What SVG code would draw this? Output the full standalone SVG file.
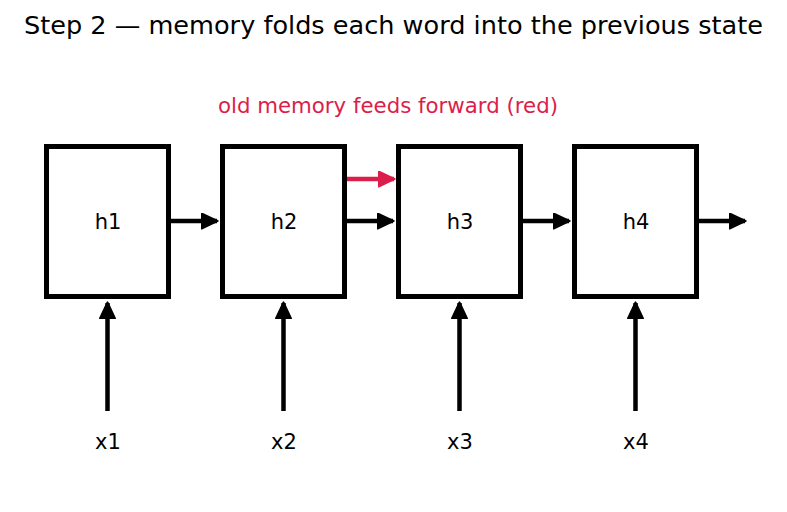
<svg xmlns="http://www.w3.org/2000/svg" width="787" height="512" viewBox="0 0 787 512">
<defs>
<style>
text{font-family:"DejaVu Sans","Liberation Sans",sans-serif;fill:#000}
.box{fill:#fff;stroke:#000;stroke-width:5}
.lbl{font-size:21px;text-anchor:middle}
.c{stroke:#000;stroke-width:4.5;fill:none}
.r{stroke:#dc1e4a;stroke-width:4.5;fill:none}
</style>
<marker id="ahr" viewBox="0 0 10 10" refX="9" refY="5" markerWidth="18" markerHeight="17" markerUnits="userSpaceOnUse" orient="auto">
<path d="M0,0.5 L9.5,5 L0,9.5 z" fill="#dc1e4a" stroke="#dc1e4a" stroke-width="1" stroke-linejoin="round"/>
</marker>
<marker id="ahb" viewBox="0 0 10 10" refX="9" refY="5" markerWidth="18" markerHeight="17" markerUnits="userSpaceOnUse" orient="auto">
<path d="M0,0.5 L9.5,5 L0,9.5 z" fill="#000" stroke="#000" stroke-width="1" stroke-linejoin="round"/>
</marker>
</defs>
<rect width="787" height="512" fill="#fff"/>
<text x="393.5" y="34" font-size="25" text-anchor="middle" textLength="739" lengthAdjust="spacingAndGlyphs">Step 2 — memory folds each word into the previous state</text>
<text x="388" y="113" font-size="21.3" text-anchor="middle" style="fill:#dc1e4a">old memory feeds forward (red)</text>
<g id="connectors">
<line class="c" x1="169" y1="221" x2="217" y2="221" marker-end="url(#ahb)"/>
<line class="c" x1="345" y1="221" x2="393" y2="221" marker-end="url(#ahb)"/>
<line class="c" x1="521" y1="221" x2="569" y2="221" marker-end="url(#ahb)"/>
<line class="c" x1="697" y1="221" x2="745" y2="221" marker-end="url(#ahb)"/>
<line class="r" x1="346" y1="179" x2="394" y2="179" marker-end="url(#ahr)"/>
<line class="c" x1="107.5" y1="411" x2="107.5" y2="303" marker-end="url(#ahb)"/>
<line class="c" x1="283.5" y1="411" x2="283.5" y2="303" marker-end="url(#ahb)"/>
<line class="c" x1="459.5" y1="411" x2="459.5" y2="303" marker-end="url(#ahb)"/>
<line class="c" x1="635.5" y1="411" x2="635.5" y2="303" marker-end="url(#ahb)"/>
</g>
<g id="h1"><rect class="box" x="46.5" y="146.5" width="122" height="150"/><text class="lbl" x="108" y="228.5">h1</text></g>
<g id="h2"><rect class="box" x="222.5" y="146.5" width="122" height="150"/><text class="lbl" x="284" y="228.5">h2</text></g>
<g id="h3"><rect class="box" x="398.5" y="146.5" width="122" height="150"/><text class="lbl" x="460" y="228.5">h3</text></g>
<g id="h4"><rect class="box" x="574.5" y="146.5" width="122" height="150"/><text class="lbl" x="636" y="228.5">h4</text></g>
<g id="x1"><text class="lbl" x="108" y="448.5">x1</text></g>
<g id="x2"><text class="lbl" x="284" y="448.5">x2</text></g>
<g id="x3"><text class="lbl" x="460" y="448.5">x3</text></g>
<g id="x4"><text class="lbl" x="636" y="448.5">x4</text></g>
</svg>
